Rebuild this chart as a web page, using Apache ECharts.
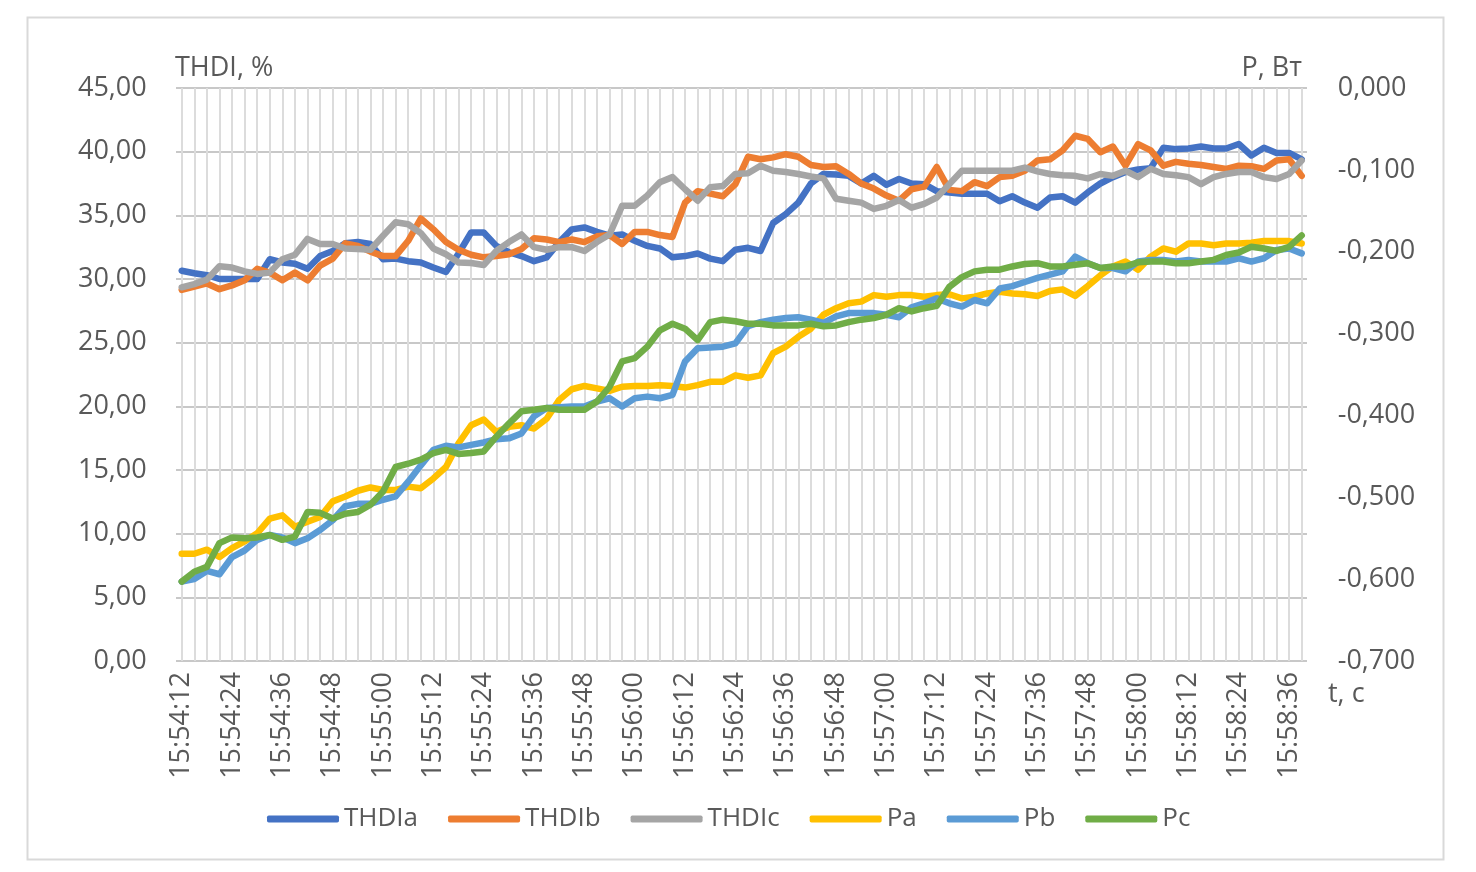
<!DOCTYPE html>
<html>
<head>
<meta charset="utf-8">
<script src="https://cdn.jsdelivr.net/npm/echarts@6/dist/echarts.min.js"></script>
<style>
html,body{margin:0;padding:0;background:#fff;}
#c{width:1476px;height:872px;}
</style>
</head>
<body>
<div id="c"></div>
<script>
const categories = [
"15:54:12","15:54:15","15:54:18","15:54:21","15:54:24","15:54:27","15:54:30","15:54:33","15:54:36","15:54:39","15:54:42","15:54:45","15:54:48","15:54:51","15:54:54","15:54:57",
"15:55:00","15:55:03","15:55:06","15:55:09","15:55:12","15:55:15","15:55:18","15:55:21","15:55:24","15:55:27","15:55:30","15:55:33","15:55:36","15:55:39","15:55:42","15:55:45","15:55:48","15:55:51","15:55:54","15:55:57",
"15:56:00","15:56:03","15:56:06","15:56:09","15:56:12","15:56:15","15:56:18","15:56:21","15:56:24","15:56:27","15:56:30","15:56:33","15:56:36","15:56:39","15:56:42","15:56:45","15:56:48","15:56:51","15:56:54","15:56:57",
"15:57:00","15:57:03","15:57:06","15:57:09","15:57:12","15:57:15","15:57:18","15:57:21","15:57:24","15:57:27","15:57:30","15:57:33","15:57:36","15:57:39","15:57:42","15:57:45","15:57:48","15:57:51","15:57:54","15:57:57",
"15:58:00","15:58:03","15:58:06","15:58:09","15:58:12","15:58:15","15:58:18","15:58:21","15:58:24","15:58:27","15:58:30","15:58:33","15:58:36","15:58:39"
];

const thdiA = [30.65,30.45,30.3,30.0,30.0,30.0,30.0,31.55,31.3,31.2,30.8,31.8,32.2,32.8,32.9,32.75,
31.55,31.6,31.4,31.3,30.9,30.55,32.0,33.65,33.65,32.6,32.1,31.8,31.4,31.7,32.9,33.9,34.05,33.7,33.4,33.5,
33.0,32.6,32.4,31.7,31.8,32.0,31.6,31.4,32.3,32.45,32.2,34.4,35.1,36.0,37.5,38.25,38.2,38.1,37.5,38.1,
37.4,37.85,37.5,37.45,36.9,36.8,36.7,36.7,36.7,36.1,36.5,36.0,35.6,36.4,36.5,36.0,36.8,37.5,38.0,38.4,
38.6,38.7,40.3,40.2,40.25,40.4,40.25,40.25,40.6,39.7,40.3,39.9,39.9,39.4];

const thdiB = [29.15,29.4,29.65,29.2,29.5,29.9,30.8,30.5,29.9,30.5,29.9,31.05,31.6,32.8,32.6,32.15,
31.8,31.8,33.0,34.75,33.9,32.9,32.3,31.9,31.7,31.8,31.95,32.35,33.2,33.1,32.9,33.1,32.9,33.35,33.45,32.75,
33.7,33.7,33.45,33.3,36.0,36.9,36.7,36.5,37.45,39.6,39.4,39.55,39.8,39.6,38.95,38.8,38.85,38.25,37.5,37.1,
36.55,36.15,37.05,37.25,38.8,37.0,36.9,37.6,37.3,38.0,38.1,38.5,39.3,39.4,40.1,41.25,41.0,39.95,40.4,38.9,
40.6,40.1,38.9,39.2,39.05,38.95,38.8,38.65,38.9,38.85,38.65,39.3,39.4,38.1];

const thdiC = [29.35,29.6,29.95,31.0,30.9,30.6,30.4,30.5,31.55,31.9,33.15,32.75,32.75,32.4,32.35,32.3,
33.4,34.45,34.3,33.6,32.4,31.95,31.3,31.25,31.1,32.2,32.9,33.5,32.5,32.3,32.5,32.5,32.2,32.9,33.5,35.75,
35.75,36.55,37.6,38.0,37.05,36.15,37.2,37.3,38.25,38.3,38.9,38.5,38.4,38.25,38.05,37.9,36.3,36.15,36.0,35.5,
35.75,36.2,35.6,35.9,36.4,37.45,38.5,38.5,38.5,38.5,38.5,38.75,38.45,38.25,38.15,38.1,37.9,38.25,38.1,38.5,
38.0,38.65,38.25,38.15,38.0,37.45,38.0,38.25,38.4,38.4,38.0,37.85,38.25,39.3];

const pA = [-0.569,-0.569,-0.564,-0.573,-0.562,-0.554,-0.544,-0.526,-0.522,-0.536,-0.530,-0.524,-0.505,-0.499,-0.492,-0.488,
-0.491,-0.491,-0.487,-0.489,-0.477,-0.463,-0.434,-0.412,-0.405,-0.420,-0.414,-0.412,-0.416,-0.404,-0.381,-0.368,-0.364,-0.367,-0.370,-0.365,
-0.364,-0.364,-0.363,-0.364,-0.366,-0.363,-0.359,-0.359,-0.351,-0.354,-0.351,-0.324,-0.316,-0.304,-0.294,-0.277,-0.269,-0.263,-0.261,-0.253,
-0.255,-0.253,-0.253,-0.255,-0.253,-0.252,-0.257,-0.255,-0.251,-0.249,-0.251,-0.252,-0.254,-0.248,-0.246,-0.254,-0.242,-0.229,-0.218,-0.212,
-0.222,-0.206,-0.196,-0.200,-0.190,-0.190,-0.192,-0.190,-0.190,-0.189,-0.187,-0.187,-0.187,-0.190];

const pB = [-0.603,-0.600,-0.590,-0.594,-0.573,-0.565,-0.552,-0.546,-0.549,-0.556,-0.550,-0.540,-0.528,-0.511,-0.508,-0.508,
-0.503,-0.499,-0.481,-0.461,-0.442,-0.437,-0.439,-0.436,-0.433,-0.429,-0.428,-0.422,-0.401,-0.391,-0.390,-0.389,-0.389,-0.383,-0.379,-0.389,
-0.379,-0.377,-0.379,-0.375,-0.334,-0.318,-0.317,-0.316,-0.312,-0.291,-0.286,-0.283,-0.281,-0.280,-0.283,-0.287,-0.279,-0.275,-0.275,-0.275,
-0.277,-0.280,-0.268,-0.263,-0.257,-0.263,-0.267,-0.259,-0.263,-0.245,-0.242,-0.237,-0.232,-0.228,-0.224,-0.206,-0.214,-0.220,-0.220,-0.224,
-0.212,-0.210,-0.210,-0.212,-0.210,-0.212,-0.212,-0.212,-0.208,-0.212,-0.208,-0.198,-0.196,-0.202];

const pC = [-0.603,-0.591,-0.585,-0.556,-0.549,-0.550,-0.549,-0.546,-0.552,-0.548,-0.518,-0.519,-0.526,-0.520,-0.518,-0.509,
-0.493,-0.463,-0.459,-0.454,-0.446,-0.442,-0.447,-0.446,-0.444,-0.426,-0.410,-0.395,-0.393,-0.391,-0.393,-0.393,-0.393,-0.383,-0.365,-0.334,
-0.330,-0.316,-0.296,-0.288,-0.294,-0.308,-0.286,-0.283,-0.285,-0.288,-0.288,-0.290,-0.290,-0.290,-0.288,-0.291,-0.290,-0.286,-0.283,-0.281,
-0.277,-0.269,-0.273,-0.269,-0.266,-0.243,-0.231,-0.224,-0.222,-0.222,-0.218,-0.215,-0.214,-0.218,-0.218,-0.216,-0.214,-0.220,-0.218,-0.218,
-0.213,-0.212,-0.212,-0.214,-0.214,-0.212,-0.210,-0.204,-0.201,-0.194,-0.196,-0.199,-0.194,-0.180];

const seriesNames = ["THDIa","THDIb","THDIc","Pa","Pb","Pc"];
const seriesColors = ["#4472C4","#ED7D31","#A5A5A5","#FFC000","#5B9BD5","#70AD47"];
const seriesData = [thdiA, thdiB, thdiC, pA, pB, pC];
const seriesAxis = [0,0,0,1,1,1];

const FONT = "Open Sans";
const TXT = "#595959";
const FS = 27;

const chart = echarts.init(document.getElementById('c'), null, {renderer:'canvas'});

const series = seriesNames.map((n,k)=>({
  name:n, type:'line', xAxisIndex:0, yAxisIndex:seriesAxis[k],
  data:seriesData[k], showSymbol:false, symbol:'none', smooth:false,
  lineStyle:{width:6.5,color:seriesColors[k],cap:'round',join:'round'},
  itemStyle:{color:seriesColors[k]}, z:3+k
}));

chart.setOption({
  animation:false,
  backgroundColor:'#ffffff',
  grid:[
    {left:181.7,right:174.3,top:88,bottom:211},
    {left:176,right:169,top:88,bottom:211}
  ],
  xAxis:[
    {type:'category',gridIndex:0,data:categories,boundaryGap:false,
     axisLine:{show:false},axisTick:{show:false},
     axisLabel:{interval:3,rotate:90,margin:11,color:TXT,fontFamily:FONT,fontSize:FS},
     splitLine:{show:true,interval:0,lineStyle:{color:'#dcdcdc',width:2}}},
    {type:'value',gridIndex:1,min:0,max:1,show:false}
  ],
  yAxis:[
    {type:'value',gridIndex:0,min:0,max:45,interval:5,position:'left',
     axisLine:{show:false},axisTick:{show:false},splitLine:{show:false},
     axisLabel:{margin:35,color:TXT,fontFamily:FONT,fontSize:FS,formatter:v=>v.toFixed(2).replace('.',',')}},
    {type:'value',gridIndex:0,min:-0.7,max:0,interval:0.1,position:'right',
     axisLine:{show:false},axisTick:{show:false},splitLine:{show:false},
     axisLabel:{margin:36,color:TXT,fontFamily:FONT,fontSize:FS,formatter:v=>(Math.abs(v)<1e-9?0:v).toFixed(3).replace('.',',')}},
    {type:'value',gridIndex:1,min:0,max:45,interval:5,
     axisLine:{show:false},axisTick:{show:false},axisLabel:{show:false},
     splitLine:{show:true,lineStyle:{color:'#c8c8c8',width:2}}}
  ],
  legend:{
    data:seriesNames,left:262,top:801,icon:'roundRect',itemWidth:72,itemHeight:7,itemGap:30,
    textStyle:{color:TXT,fontFamily:FONT,fontSize:26}
  },
  graphic:[
    {type:'rect',left:25,top:15,shape:{width:1416,height:842},style:{fill:null,stroke:'#d9d9d9',lineWidth:2},silent:true,z:-1},
    {type:'text',left:175,top:55,style:{text:'THDI, %',fill:TXT,font:'27px "Open Sans"'}},
    {type:'text',right:174,top:55,style:{text:'P, Вт',fill:TXT,font:'27px "Open Sans"'}},
    {type:'text',left:1328,top:681,style:{text:'t, c',fill:TXT,font:'27px "Open Sans"'}}
  ],
  series:series
});
</script>
</body>
</html>
